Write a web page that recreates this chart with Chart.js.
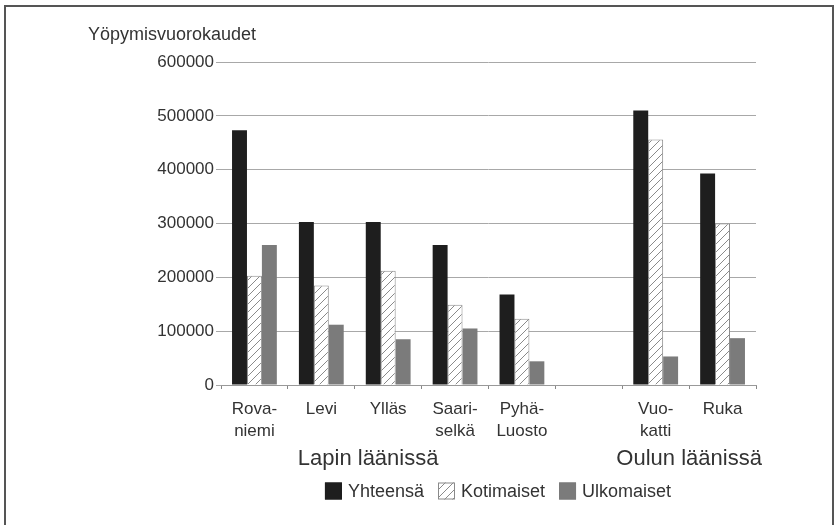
<!DOCTYPE html>
<html>
<head>
<meta charset="utf-8">
<script src="https://cdn.jsdelivr.net/npm/chart.js@4/dist/chart.umd.min.js"></script>
<style>
  body { margin: 0; background: #fff; }
  #wrap { width: 838px; height: 525px; position: relative; }
</style>
</head>
<body>
<div id="wrap"><canvas id="chart" width="838" height="525"></canvas></div>
<script>
// Kohteet (tyhjä väli Lapin ja Oulun läänin välissä)
var categories = [['Rova-', 'niemi'], 'Levi', 'Ylläs', ['Saari-', 'selkä'], ['Pyhä-', 'Luosto'], '', ['Vuo-', 'katti'], 'Ruka'];
var yhteensa   = [473000, 303000, 303000, 260000, 168000, null, 510000, 393000];
var kotimaiset = [203000, 185000, 212000, 149000, 123000, null, 456000, 300000];
var ulkomaiset = [260000, 112000,  85000, 105000,  44000, null,  53000,  87000];
var yTicks = [0, 100000, 200000, 300000, 400000, 500000, 600000];
var yTitle = 'Yöpymisvuorokaudet';
var groups = [
    { label: 'Lapin läänissä', at: 1.7 },
    { label: 'Oulun läänissä', at: 6.5 }
];

var FONT = "'Liberation Sans', Arial, sans-serif";
var TEXT = '#333';

// Vinoviivoitus kotimaisille
function makeHatch() {
    var c = document.createElement('canvas');
    c.width = 8; c.height = 8;
    var g = c.getContext('2d');
    g.fillStyle = '#fff';
    g.fillRect(0, 0, 8, 8);
    g.strokeStyle = '#8a8a8a';
    g.lineWidth = 1;
    g.beginPath();
    g.moveTo(0, 8); g.lineTo(8, 0);
    g.moveTo(-1, 1); g.lineTo(1, -1);
    g.moveTo(7, 9); g.lineTo(9, 7);
    g.stroke();
    return g.createPattern(c, 'repeat');
}
var hatch = makeHatch();

// Kehys, y-akselin otsikko, ryhmien nimet ja selite
var extras = {
    id: 'extras',
    afterDraw: function(chart) {
        var ctx = chart.ctx;
        var x = chart.scales.x;
        ctx.save();
        // kehys
        ctx.strokeStyle = '#555';
        ctx.lineWidth = 2;
        ctx.strokeRect(5, 6, 828, 530);

        ctx.fillStyle = TEXT;
        ctx.textBaseline = 'middle';
        ctx.font = '18px ' + FONT;
        ctx.textAlign = 'left';
        ctx.fillText(yTitle, 88, 35);

        ctx.font = '22px ' + FONT;
        ctx.textAlign = 'center';
        groups.forEach(function(g) {
            ctx.fillText(g.label, x.getPixelForValue(g.at), 459);
        });

        // selite
        ctx.font = '18px ' + FONT;
        var items = chart.data.datasets;
        var box = 17, gap = 6, space = 14;
        var total = 0;
        items.forEach(function(d, i) {
            total += box + gap + ctx.measureText(d.label).width + (i < items.length - 1 ? space : 0);
        });
        var lx = 498 - total / 2;
        var ly = 491;
        ctx.textAlign = 'left';
        items.forEach(function(d) {
            ctx.fillStyle = d.backgroundColor;
            ctx.fillRect(lx, ly - box / 2, box, box);
            ctx.strokeStyle = d.borderWidth ? d.borderColor : d.backgroundColor;
            ctx.lineWidth = 1;
            ctx.strokeRect(lx + 0.5, ly - box / 2 + 0.5, box - 1, box - 1);
            ctx.fillStyle = TEXT;
            ctx.fillText(d.label, lx + box + gap, ly + 1);
            lx += box + gap + ctx.measureText(d.label).width + space;
        });
        ctx.restore();
    }
};

new Chart(document.getElementById('chart'), {
    type: 'bar',
    data: {
        labels: categories,
        datasets: [
            {
                label: 'Yhteensä',
                data: yhteensa,
                backgroundColor: '#1e1e1e',
                borderWidth: 0
            },
            {
                label: 'Kotimaiset',
                data: kotimaiset,
                backgroundColor: hatch,
                borderColor: '#8a8a8a',
                borderWidth: 1
            },
            {
                label: 'Ulkomaiset',
                data: ulkomaiset,
                backgroundColor: '#7b7b7b',
                borderWidth: 0
            }
        ]
    },
    options: {
        responsive: false,
        animation: false,
        layout: {
            padding: { left: 151, right: 82, top: 62, bottom: 0 }
        },
        datasets: {
            bar: {
                categoryPercentage: 0.67,
                barPercentage: 1.0
            }
        },
        scales: {
            x: {
                grid: {
                    drawOnChartArea: false,
                    drawTicks: true,
                    tickLength: 4,
                    color: '#888',
                    offset: true
                },
                border: { display: true, color: '#999' },
                ticks: {
                    color: TEXT,
                    font: { family: FONT, size: 17, lineHeight: 1.25 },
                    padding: 10,
                    maxRotation: 0,
                    autoSkip: false
                },
                afterFit: function(scale) {
                    scale.height = 525 - 385;
                }
            },
            y: {
                min: 0,
                max: 600000,
                afterBuildTicks: function(scale) {
                    scale.ticks = yTicks.map(function(v) { return { value: v }; });
                },
                grid: {
                    color: '#a8a8a8',
                    tickLength: 5,
                    drawTicks: true
                },
                border: { display: false },
                ticks: {
                    color: TEXT,
                    font: { family: FONT, size: 17 },
                    padding: 2,
                    callback: function(value) { return String(value); }
                },
                afterFit: function(scale) {
                    scale.width = 70;
                }
            }
        },
        plugins: {
            legend: { display: false },
            tooltip: { enabled: false }
        }
    },
    plugins: [extras]
});
</script>
</body>
</html>
